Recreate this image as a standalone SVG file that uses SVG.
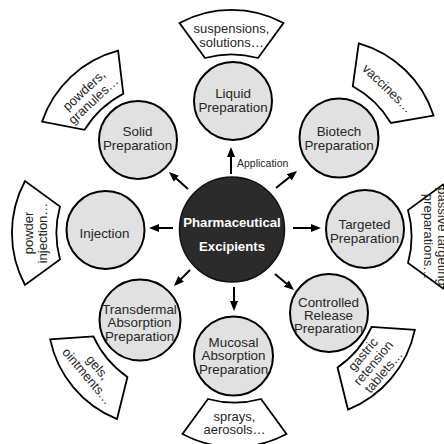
<svg xmlns="http://www.w3.org/2000/svg" width="444" height="444" viewBox="0 0 444 444">
<style>
  .sat { fill: #e1e1e1; stroke: #000; stroke-width: 2; }
  .hub { fill: #2b2b2b; stroke: #111; stroke-width: 1.5; }
  .box { fill: #fff; stroke: #000; stroke-width: 1.8; stroke-linejoin: miter; }
  .st { font-family: "Liberation Sans", Arial, sans-serif; font-size: 13.4px; fill: #262626; text-anchor: middle; }
  .bt { font-family: "Liberation Sans", Arial, sans-serif; font-size: 13px; fill: #262626; text-anchor: middle; }
  .ht { font-family: "Liberation Sans", Arial, sans-serif; font-size: 13.2px; font-weight: bold; fill: #fff; text-anchor: middle; }
  .lab { font-family: "Liberation Sans", Arial, sans-serif; font-size: 10.5px; fill: #262626; }
  .arr { stroke: #000; stroke-width: 2; fill: none; marker-end: url(#ah); }
</style>
<defs>
  <marker id="ah" markerUnits="userSpaceOnUse" markerWidth="10" markerHeight="8" viewBox="0 0 10 8" refX="7" refY="4" orient="auto">
    <path d="M0,0 L10,4 L0,8 z" fill="#000"/>
  </marker>
  <path id="fan" d="M-52,-17.5 A110,110 0 0 1 52,-17.5 L26.5,17.5 A100,100 0 0 0 -26.5,17.5 Z"/>
</defs>
<rect width="444" height="444" fill="#fff"/>

<g id="connectors">
  <line class="arr" x1="231" y1="174" x2="231" y2="150"/>
  <text class="lab" x="237" y="167">Application</text>
  <line class="arr" x1="188" y1="189" x2="171.2" y2="174"/>
  <line class="arr" x1="276" y1="188" x2="294.7" y2="172.9"/>
  <line class="arr" x1="173" y1="228" x2="152" y2="228"/>
  <line class="arr" x1="293" y1="228" x2="318" y2="228"/>
  <line class="arr" x1="190" y1="270" x2="176.1" y2="283.9"/>
  <line class="arr" x1="234" y1="287" x2="234" y2="308"/>
  <line class="arr" x1="275" y1="274" x2="291.7" y2="288.1"/>
</g>

<g id="hub">
  <circle class="hub" cx="232" cy="229.5" r="52.5"/>
  <text class="ht" x="232" y="227">Pharmaceutical</text>
  <text class="ht" x="232" y="251">Excipients</text>
</g>

<g id="liquid">
  <circle class="sat" cx="233" cy="101" r="39"/>
  <text class="st" x="233" y="97.5">Liquid</text>
  <text class="st" x="233" y="111.5">Preparation</text>
</g>
<g id="solid">
  <circle class="sat" cx="138" cy="140" r="39"/>
  <text class="st" x="137.5" y="136">Solid</text>
  <text class="st" x="137.5" y="149.5">Preparation</text>
</g>
<g id="biotech">
  <circle class="sat" cx="339" cy="138" r="39.5"/>
  <text class="st" x="339" y="136">Biotech</text>
  <text class="st" x="339" y="149.5">Preparation</text>
</g>
<g id="injection">
  <circle class="sat" cx="105.5" cy="230" r="39"/>
  <text class="st" x="104.5" y="238">Injection</text>
</g>
<g id="targeted">
  <circle class="sat" cx="365" cy="229" r="39"/>
  <text class="st" x="364.5" y="229">Targeted</text>
  <text class="st" x="364.5" y="242.5">Preparation</text>
</g>
<g id="transdermal">
  <circle class="sat" cx="140" cy="320" r="40.5"/>
  <text class="st" x="139.5" y="313.8">Transdermal</text>
  <text class="st" x="139.5" y="327.2">Absorption</text>
  <text class="st" x="139.5" y="340.8">Preparation</text>
</g>
<g id="mucosal">
  <circle class="sat" cx="233.5" cy="356" r="39.5"/>
  <text class="st" x="233.5" y="346.8">Mucosal</text>
  <text class="st" x="233.5" y="360.2">Absorption</text>
  <text class="st" x="233.5" y="373.5">Preparation</text>
</g>
<g id="controlled">
  <circle class="sat" cx="329" cy="313" r="39"/>
  <text class="st" x="328.5" y="306.5">Controlled</text>
  <text class="st" x="328.5" y="319.8">Release</text>
  <text class="st" x="328.5" y="333.2">Preparation</text>
</g>

<g id="box-liquid" transform="translate(231.5,40.5)">
  <use href="#fan" class="box"/>
  <g transform="translate(0,-5)">
    <text class="bt" x="0" y="-2.4">suspensions,</text>
    <text class="bt" x="0" y="11.1">solutions…</text>
  </g>
</g>
<g id="box-solid" transform="translate(92,99) rotate(-43)">
  <use href="#fan" class="box"/>
  <g transform="translate(0,-5)">
    <text class="bt" x="0" y="-2.4">powders,</text>
    <text class="bt" x="0" y="11.1">granules…</text>
  </g>
</g>
<g id="box-biotech" transform="translate(384,92) rotate(44)">
  <use href="#fan" class="box"/>
  <g transform="translate(0,-5)">
    <text class="bt" x="0" y="4.3">vaccines…</text>
  </g>
</g>
<g id="box-targeted" transform="translate(425.5,236.5) rotate(90)">
  <use href="#fan" class="box"/>
  <g transform="translate(0,-10)">
    <text class="bt" x="0" y="-2.4">passive targeting</text>
    <text class="bt" x="0" y="11.1">preparations…</text>
  </g>
</g>
<g id="box-injection" transform="translate(42.5,233) rotate(-90)">
  <use href="#fan" class="box"/>
  <g transform="translate(0,-7)">
    <text class="bt" x="0" y="-2.4">powder</text>
    <text class="bt" x="0" y="11.1">injection…</text>
  </g>
</g>
<g id="box-transdermal" transform="translate(97,368) rotate(-130)">
  <use href="#fan" class="box"/>
  <g transform="translate(0,-6) rotate(180)">
    <text class="bt" x="0" y="-2.4">gels,</text>
    <text class="bt" x="0" y="11.1">ointments…</text>
  </g>
</g>
<g id="box-controlled" transform="translate(368,358.5) rotate(130)">
  <use href="#fan" class="box"/>
  <g transform="translate(0,-7) rotate(180)">
    <text class="bt" x="0" y="-9.2">gastric</text>
    <text class="bt" x="0" y="4.3">retension</text>
    <text class="bt" x="0" y="17.8">tablets…</text>
  </g>
</g>
<g id="box-mucosal" transform="translate(234.5,416.5) rotate(180)">
  <use href="#fan" class="box"/>
  <g transform="translate(0,-6.5) rotate(180)">
    <text class="bt" x="0" y="-2.4">sprays,</text>
    <text class="bt" x="0" y="11.1">aerosols…</text>
  </g>
</g>
</svg>
